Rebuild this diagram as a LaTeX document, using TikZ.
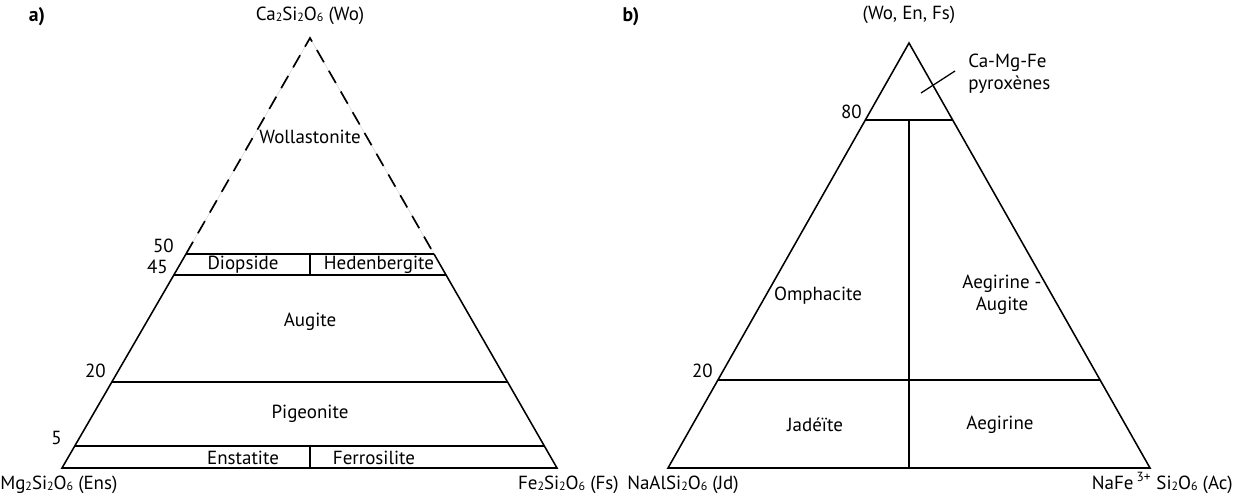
\documentclass[tikz,border=0pt]{standalone}
\usepackage{fontspec}
\setmainfont{PT Sans}
\usepackage{tikz}
\usetikzlibrary{calc}
\tikzstyle{none}=[inner sep=0pt]
\tikzstyle{txt}=[inner sep=0pt,font=\fontsize{13.5}{16}\selectfont]
\tikzstyle{tag}=[inner sep=0pt,font=\fontsize{14}{16}\selectfont\bfseries]
\tikzstyle{side}=[line width=1.1pt]
\tikzstyle{dashside}=[line width=1.2pt,dash pattern=on 10pt off 7pt]
\tikzstyle{ghost}=[line width=0.3pt,black!20]
\newcommand{\sub}[1]{\raisebox{-0.15ex}{\fontsize{8.5}{9}\selectfont#1}}
\begin{document}
\begin{tikzpicture}[x=0.025cm,y=-0.025cm]
            \useasboundingbox (0,0) rectangle (1234,495);
            % a) Wo-En-Fs
            \node [style=none] (0) at (310, 38) {};
            \node [style=none] (1) at (62, 468) {};
            \node [style=none] (2) at (557, 468) {};
            \node [style=none] (3) at (186, 254) {};
            \node [style=none] (4) at (434, 254) {};
            \node [style=none] (5) at (174, 275) {};
            \node [style=none] (6) at (446, 275) {};
            \node [style=none] (7) at (112, 382) {};
            \node [style=none] (8) at (508, 382) {};
            \node [style=none] (9) at (75, 446) {};
            \node [style=none] (10) at (545, 446) {};
            \node [style=none] (11) at (310, 254) {};
            \node [style=none] (12) at (310, 275) {};
            \node [style=none] (13) at (310, 446) {};
            \node [style=none] (14) at (310, 468) {};
            \draw [style=ghost] (3.center) to (0.center) to (4.center);
            \draw [style=dashside] (3.center) to (0.center) to (4.center);
            \draw [style=side] (3.center) to (1.center) to (2.center) to (4.center);
            \draw [style=side] (3.center) to (4.center);
            \draw [style=side] (5.center) to (6.center);
            \draw [style=side] (7.center) to (8.center);
            \draw [style=side] (9.center) to (10.center);
            \draw [style=side] (11.center) to (12.center);
            \draw [style=side] (13.center) to (14.center);
            \node [style=tag] (40) at (37, 17) {a)};
            \node [style=txt,anchor=base] (41) at (310, 20) {Ca\sub{2}Si\sub{2}O\sub{6} (Wo)};
            \node [style=txt] (42) at (310, 137) {Wollastonite};
            \node [style=txt,anchor=east] (43) at (174, 246) {50};
            \node [style=txt,anchor=east] (44) at (168, 267) {45};
            \node [style=txt] (45) at (243, 265) {Diopside};
            \node [style=txt] (46) at (379, 265) {Hedenbergite};
            \node [style=txt] (47) at (310, 322) {Augite};
            \node [style=txt,anchor=east] (48) at (106, 371) {20};
            \node [style=txt] (49) at (310, 414) {Pigeonite};
            \node [style=txt,anchor=east] (50) at (62, 438) {5};
            \node [style=txt] (51) at (243, 458) {Enstatite};
            \node [style=txt] (52) at (374, 458) {Ferrosilite};
            \node [style=txt,anchor=base west] (53) at (0, 489) {Mg\sub{2}Si\sub{2}O\sub{6} (Ens)};
            \node [style=txt,anchor=base east] (54) at (619, 489) {Fe\sub{2}Si\sub{2}O\sub{6} (Fs)};
            % b) Quad-Jd-Ae
            \node [style=none] (20) at (909, 43) {};
            \node [style=none] (21) at (668, 468) {};
            \node [style=none] (22) at (1150, 468) {};
            \node [style=none] (23) at (866, 120) {};
            \node [style=none] (24) at (952, 120) {};
            \node [style=none] (25) at (909, 120) {};
            \node [style=none] (26) at (909, 468) {};
            \node [style=none] (27) at (718, 380) {};
            \node [style=none] (28) at (1100, 380) {};
            \node [style=none] (29) at (921, 93) {};
            \node [style=none] (30) at (955, 71) {};
            \draw [style=side] (20.center) to (21.center) to (22.center) to cycle;
            \draw [style=side] (23.center) to (24.center);
            \draw [style=side] (25.center) to (26.center);
            \draw [style=side] (27.center) to (28.center);
            \draw [line width=0.9pt] (29.center) to (30.center);
            \node [style=tag] (60) at (631, 17) {b)};
            \node [style=txt] (61) at (909, 15) {(Wo, En, Fs)};
            \node [style=txt,anchor=west] (62) at (968, 74) {\begin{tabular}{@{}l@{}}Ca-Mg-Fe\\pyroxènes\end{tabular}};
            \node [style=txt,anchor=east] (63) at (862, 112) {80};
            \node [style=txt] (64) at (818, 296) {Omphacite};
            \node [style=txt] (65) at (1002, 295) {\begin{tabular}{@{}c@{}}Aegirine -\\Augite\end{tabular}};
            \node [style=txt,anchor=east] (66) at (713, 371) {20};
            \node [style=txt] (67) at (815, 425) {Jadéïte};
            \node [style=txt] (68) at (1000, 425) {Aegirine};
            \node [style=txt,anchor=base west] (69) at (627, 489) {NaAlSi\sub{2}O\sub{6} (Jd)};
            \node [style=txt,anchor=base east] (70) at (1233, 489) {NaFe\,\textsuperscript{3+} Si\sub{2}O\sub{6} (Ac)};
    \end{tikzpicture}
\end{document}
